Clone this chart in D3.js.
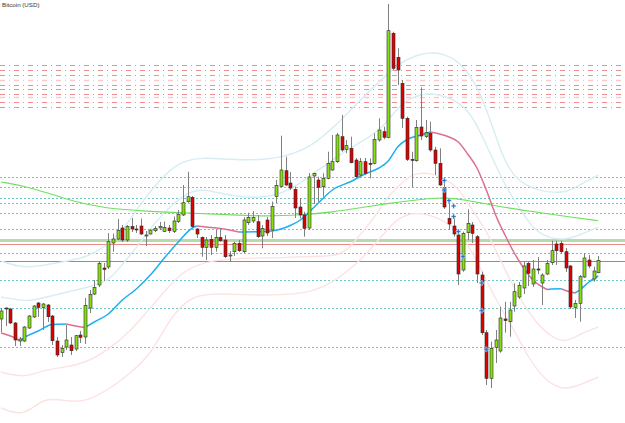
<!DOCTYPE html>
<html>
<head>
<meta charset="utf-8">
<script src="https://cdn.jsdelivr.net/npm/d3@7"></script>
<style>
  html, body { margin: 0; padding: 0; background: #fff; }
  svg { display: block; }
</style>
</head>
<body>
<div id="chart"></div>
<script>
const title = 'Bitcoin (USD)'

// daily candles, oldest first (USD)
const opens = [
  5810, 5920, 5910, 5770, 5590, 5590, 5720, 5830, 5970, 5925,
  5950, 5840, 5590, 5473, 5530, 5550, 5510, 5650, 5630, 5920,
  6060, 6150, 6320, 6330, 6570, 6610, 6720, 6600, 6735, 6710,
  6740, 6640, 6660, 6693, 6720, 6685, 6720, 6685, 6785, 6850,
  6983, 7027, 6710, 6627, 6527, 6607, 6527, 6625, 6600, 6440,
  6483, 6567, 6483, 6773, 6790, 6783, 6640, 6800, 6700, 7035,
  7135, 7293, 7170, 7107, 6930, 6850, 6720, 7240, 7200, 7133,
  7217, 7300, 7383, 7633, 7507, 7517, 7400, 7250, 7383, 7367,
  7367, 7600, 7683, 7627, 8667, 8427, 8167, 7817, 7407, 7393,
  7730, 7635, 7667, 7500, 7367, 7125, 6817, 6740, 6650, 6300,
  6673, 6750, 6633, 6250, 5673, 5217, 5527, 5490, 5810, 5783,
  5940, 6030, 6120, 6367, 6160, 6310, 6170, 6260, 6373, 6560,
  6567, 6483, 6340, 5927, 5967, 6230, 6400, 6210, 6273
]
const highs = [
  5920, 5925, 5920, 5780, 5630, 5740, 5850, 5950, 5980, 5970,
  5960, 5850, 5630, 5550, 5750, 5630, 5650, 5690, 6020, 6100,
  6200, 6390, 6370, 6670, 6665, 6810, 6750, 6750, 6820, 6750,
  6815, 6690, 6705, 6740, 6780, 6785, 6750, 6835, 6900, 7150,
  7283, 7040, 6720, 6635, 6630, 6650, 6700, 6717, 6650, 6490,
  6583, 6600, 6827, 6873, 6890, 6850, 6750, 6830, 6985, 7200,
  7643, 7433, 7280, 7133, 7020, 6883, 7270, 7273, 7233, 7267,
  7483, 7650, 7670, 7850, 7600, 7633, 7420, 7420, 7420, 7417,
  7667, 7817, 7733, 8960, 8683, 8517, 8200, 7833, 7483, 7800,
  8127, 7800, 7783, 7533, 7517, 7230, 6980, 6820, 6673, 6683,
  6907, 6780, 6650, 6283, 5700, 5583, 5700, 5933, 5983, 5983,
  6167, 6180, 6383, 6383, 6400, 6430, 6267, 6400, 6593, 6593,
  6593, 6520, 6350, 6000, 6250, 6467, 6450, 6333, 6440
]
const lows = [
  5680, 5740, 5760, 5540, 5540, 5580, 5710, 5820, 5830, 5700,
  5780, 5550, 5430, 5430, 5500, 5450, 5490, 5570, 5560, 5870,
  6050, 6130, 6190, 6310, 6483, 6600, 6580, 6580, 6680, 6670,
  6650, 6540, 6655, 6680, 6700, 6680, 6670, 6670, 6770, 6840,
  6973, 6720, 6620, 6433, 6400, 6450, 6483, 6583, 6420, 6380,
  6440, 6480, 6467, 6750, 6770, 6620, 6517, 6640, 6620, 6970,
  7127, 7140, 7100, 6820, 6817, 6633, 6700, 6960, 6983, 7033,
  7207, 7293, 7370, 7483, 7467, 7367, 7220, 7233, 7250, 7217,
  7357, 7583, 7607, 7617, 8300, 8150, 7720, 7390, 7127, 7383,
  7600, 7620, 7483, 7250, 7140, 6910, 6700, 6633, 6150, 6283,
  6600, 6570, 6170, 5650, 5150, 5120, 5370, 5473, 5673, 5633,
  5883, 6010, 6060, 6140, 6130, 6260, 5950, 6250, 6350, 6350,
  6460, 6280, 5910, 5820, 5783, 6220, 6317, 6183, 6267
]
const closes = [
  5890, 5915, 5770, 5600, 5610, 5730, 5840, 5940, 5925, 5960,
  5833, 5593, 5450, 5517, 5600, 5493, 5643, 5627, 5945, 6057,
  6125, 6365, 6305, 6583, 6610, 6695, 6600, 6735, 6710, 6705,
  6660, 6650, 6700, 6717, 6735, 6725, 6693, 6790, 6855, 6973,
  7033, 6735, 6660, 6527, 6600, 6527, 6627, 6593, 6433, 6450,
  6567, 6493, 6800, 6827, 6825, 6633, 6717, 6670, 6935, 7145,
  7300, 7150, 7120, 6920, 6850, 6717, 7230, 7267, 7127, 7217,
  7367, 7383, 7650, 7500, 7543, 7373, 7233, 7383, 7267, 7362,
  7607, 7700, 7627, 8693, 8317, 8300, 7817, 7407, 7400, 7727,
  7640, 7675, 7500, 7367, 7150, 6930, 6760, 6660, 6260, 6667,
  6767, 6667, 6260, 5673, 5217, 5517, 5600, 5820, 5795, 5900,
  6083, 6145, 6340, 6267, 6310, 6302, 6250, 6367, 6493, 6493,
  6483, 6320, 5930, 5967, 6233, 6420, 6340, 6290, 6395
]

// short moving average at these candle positions
const maIndex = [0, 3, 4, 5, 8, 11, 14, 16, 18, 20, 23, 26, 29, 32, 35, 38, 41, 42, 44, 47,
  51, 55, 58, 62, 64, 68, 71, 75, 78, 81, 83, 85, 87, 90, 92, 94, 96, 98, 100, 102,
  104, 106, 108, 110, 112, 114, 116, 117, 118, 120, 121, 123, 124, 126, 128]
const maValues = [5670, 5620, 5590, 5625, 5690, 5755, 5760, 5740, 5725, 5780, 5860, 6000, 6110, 6250, 6420, 6580, 6720, 6740, 6730, 6715,
  6680, 6682, 6690, 6745, 6795, 6970, 7100, 7185, 7260, 7320, 7390, 7530, 7605, 7650, 7680, 7660, 7630, 7580, 7460, 7320,
  7100, 6850, 6650, 6470, 6320, 6200, 6130, 6105, 6110, 6112, 6095, 6070, 6100, 6180, 6240]

// long moving average
const longIndex = [0, 5, 10, 16, 22, 30, 40, 50, 57, 64, 71, 78, 83, 87, 92, 95, 100, 105, 114, 122, 128]
const longValues = [7180, 7140, 7070, 6980, 6920, 6890, 6870, 6850, 6837, 6850, 6877, 6930, 6965, 6990, 7015, 7025, 7000, 6947, 6883, 6830, 6793]

// envelope bands
const outerUpperIndex = [0, 4, 7, 13, 18, 23, 27, 30, 34, 38, 43, 50, 58, 66, 73, 78, 82, 85, 89, 92, 95, 98, 101, 103, 105, 107, 109, 111, 114, 117, 121, 124, 128]
const outerUpperValues = [6390, 6330, 6330, 6380, 6420, 6550, 6750, 6970, 7200, 7380, 7430, 7400, 7400, 7500, 7800, 8050, 8220, 8360, 8450, 8480, 8460, 8390, 8220, 8030, 7780, 7500, 7300, 7190, 7110, 7080, 7070, 7150, 7250]
const innerUpperIndex = [0, 6, 9, 19, 23, 25, 29, 33, 37, 40, 43, 50, 57, 62, 66, 73, 78, 82, 85, 88, 92, 97, 100, 102, 104, 106, 108, 110, 112, 114, 117, 121, 124, 128]
const innerUpperValues = [6030, 5980, 6025, 6130, 6190, 6300, 6520, 6780, 6970, 7070, 7120, 7030, 7020, 7100, 7230, 7470, 7600, 7730, 7930, 8030, 8080, 8010, 7900, 7750, 7550, 7350, 7150, 7000, 6850, 6720, 6620, 6600, 6650, 6730]
const innerLowerIndex = [0, 5, 9, 14, 18, 23, 28, 31, 35, 39, 45, 52, 60, 66, 73, 76, 80, 83, 87, 89, 92, 95, 98, 100, 104, 107, 111, 115, 118, 121, 124, 128]
const innerLowerValues = [5280, 5220, 5300, 5330, 5370, 5500, 5700, 5870, 6080, 6300, 6400, 6420, 6420, 6440, 6430, 6600, 6820, 7050, 7220, 7270, 7270, 7220, 7120, 6970, 6700, 6400, 6020, 5750, 5630, 5570, 5660, 5730]
const outerLowerIndex = [0, 5, 9, 14, 18, 23, 28, 32, 36, 40, 45, 52, 60, 66, 71, 76, 80, 83, 86, 90, 95, 99, 103, 106, 110, 113, 117, 121, 124, 128]
const outerLowerValues = [4920, 4830, 5030, 4990, 4980, 5100, 5280, 5450, 5800, 6020, 6070, 6050, 6050, 6070, 6170, 6350, 6550, 6720, 6850, 6880, 6800, 6650, 6300, 6000, 5700, 5420, 5170, 5100, 5150, 5230]

// horizontal price levels
const resistanceLevels = [8347, 8300, 8250, 8155, 8110, 8065, 7980, 7933]
const faintResistanceLevels = [8200, 8030]
const dottedLevels = [7230, 7130, 7020, 6970, 6870, 6710, 6470, 6200, 5920, 5530]
const supportZone = [6600]
const redLevel = [6565]
const greenLevel = [6387]

// signal markers
const markerIndex = [95, 95, 96, 97, 97, 98, 99, 103, 103, 104]
const markerValues = [7195, 7100, 6995, 6940, 6835, 6685, 6435, 6170, 5893, 5507]

const width = 625
const height = 423

const svg = d3
  .select('#chart')
  .append('svg')
  .attr('width', width)
  .attr('height', height)

// candle index to pixels, price to pixels
const x = d3.scaleLinear().domain([0, opens.length - 1]).range([1, 598.3])
const y = d3.scaleLinear().domain([4770, 9000]).range([height, 0])

const crisp = v => Math.round(v) + 0.5

// full width horizontal lines
function addLevels(values, stroke, strokeWidth, dash) {
  svg
    .append('g')
    .selectAll('line')
    .data(values)
    .enter()
    .append('line')
    .attr('x1', 0)
    .attr('x2', width)
    .attr('y1', d => crisp(y(d)))
    .attr('y2', d => crisp(y(d)))
    .attr('stroke', stroke)
    .attr('stroke-width', strokeWidth)
    .attr('stroke-dasharray', dash)
}

addLevels(resistanceLevels, '#f28c8c', 1, '5,4,1,4')
addLevels(faintResistanceLevels, '#fbcaca', 1.6, '5,4,1,4')
addLevels(dottedLevels, '#6cc6c6', 1, '2,2')
addLevels(supportZone, '#b4dcab', 3, null)
addLevels(redLevel, '#ec8a8a', 1, null)
addLevels(greenLevel, '#6aaa66', 1, null)

// smooth curves through read points
const curve = d3
  .line()
  .x(d => x(d[0]))
  .y(d => y(d[1]))
  .curve(d3.curveBasis)

const pairs = (idx, vals) => idx.map((d, i) => [d, vals[i]])

const bands = [
  { points: pairs(outerUpperIndex, outerUpperValues), color: '#d6edf4' },
  { points: pairs(innerUpperIndex, innerUpperValues), color: '#d6edf4' },
  { points: pairs(innerLowerIndex, innerLowerValues), color: '#fde2e2' },
  { points: pairs(outerLowerIndex, outerLowerValues), color: '#fde2e2' },
]

bands.forEach(band => {
  svg
    .append('path')
    .attr('d', curve(band.points))
    .attr('fill', 'none')
    .attr('stroke', band.color)
    .attr('stroke-width', 1.4)
})

// long average
svg
  .append('path')
  .attr('d', curve(pairs(longIndex, longValues)))
  .attr('fill', 'none')
  .attr('stroke', '#6fe060')
  .attr('stroke-width', 1.1)

// short average, blue while rising and pink while falling
const maPoints = pairs(maIndex, maValues)
const runs = []
for (let i = 1; i < maPoints.length; i++) {
  const up = maPoints[i][1] >= maPoints[i - 1][1]
  const last = runs[runs.length - 1]
  if (last && last.up === up) last.points.push(maPoints[i])
  else runs.push({ up, points: [maPoints[i - 1], maPoints[i]] })
}

const maLine = d3
  .line()
  .x(d => x(d[0]))
  .y(d => y(d[1]))
  .curve(d3.curveMonotoneX)

svg
  .append('g')
  .selectAll('path')
  .data(runs)
  .enter()
  .append('path')
  .attr('d', d => maLine(d.points))
  .attr('fill', 'none')
  .attr('stroke', d => (d.up ? '#1eaff0' : '#dc7090'))
  .attr('stroke-width', 1.5)

// candles
const candles = opens.map((o, i) => ({
  i,
  open: o,
  high: highs[i],
  low: lows[i],
  close: closes[i],
}))

const candleGroup = svg.append('g')

candleGroup
  .selectAll('.wick')
  .data(candles)
  .enter()
  .append('line')
  .attr('class', 'wick')
  .attr('x1', d => crisp(x(d.i)))
  .attr('x2', d => crisp(x(d.i)))
  .attr('y1', d => y(d.high))
  .attr('y2', d => y(d.low))
  .attr('stroke', '#808080')
  .attr('stroke-width', 1)

candleGroup
  .selectAll('.body')
  .data(candles)
  .enter()
  .append('rect')
  .attr('class', 'body')
  .attr('x', d => Math.round(x(d.i)) - 1)
  .attr('width', 3)
  .attr('y', d => y(Math.max(d.open, d.close)))
  .attr('height', d => Math.max(1, Math.abs(y(d.open) - y(d.close))))
  .attr('fill', d => (d.close >= d.open ? '#86e010' : '#e00000'))
  .attr('stroke', '#2a2a2a')
  .attr('stroke-width', 0.6)

// signal markers
svg
  .append('g')
  .selectAll('path')
  .data(markerIndex.map((d, i) => [d, markerValues[i]]))
  .enter()
  .append('path')
  .attr('d', d3.symbol(d3.symbolCross, 13))
  .attr('transform', d => `translate(${x(d[0])},${y(d[1])})`)
  .attr('fill', '#1f6fd0')
  .attr('stroke', '#fff')
  .attr('stroke-width', 0.4)

// title
svg
  .append('text')
  .attr('x', 2)
  .attr('y', 6.5)
  .text(title)
  .style('font-family', "'Liberation Sans', Arial, sans-serif")
  .style('font-size', '6.2px')
  .style('fill', '#333')
</script>
</body>
</html>
